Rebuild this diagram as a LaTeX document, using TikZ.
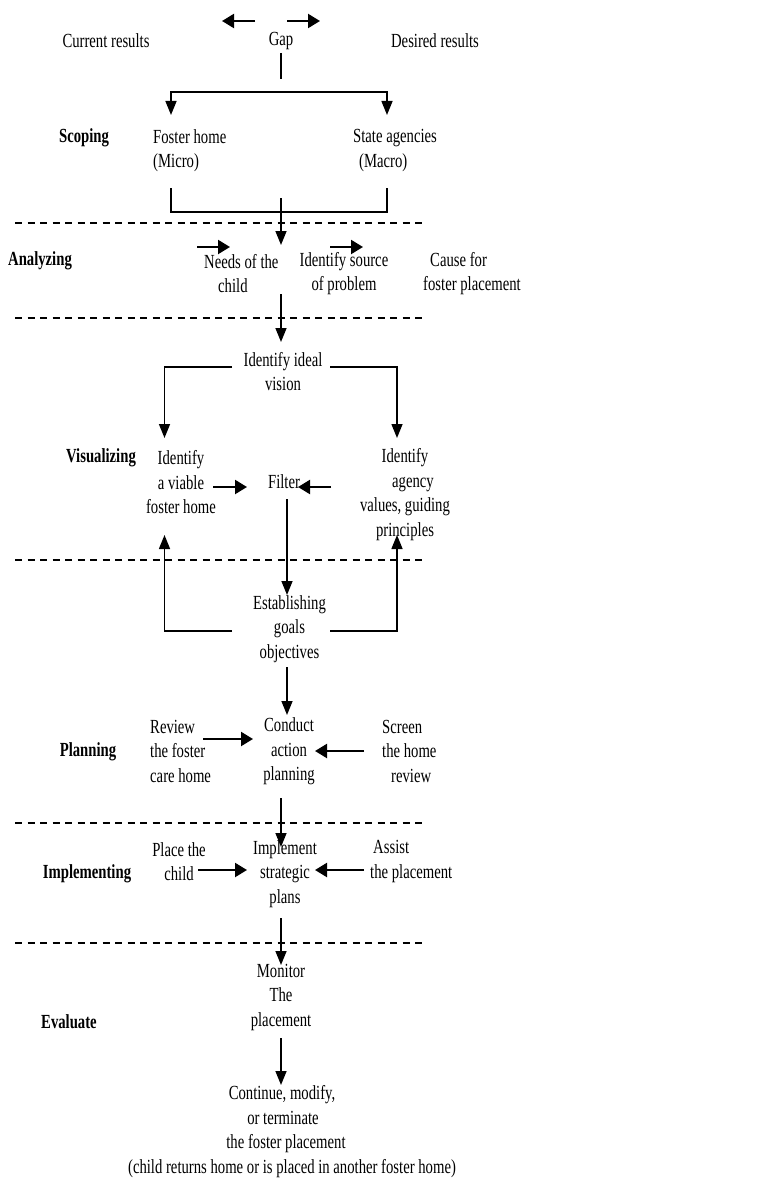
\documentclass[tikz,border=0pt]{standalone}
\usepackage{fontspec}
\setmainfont{Liberation Serif}[FakeStretch=0.735]
\usetikzlibrary{arrows.meta}
\begin{document}
\begin{tikzpicture}[x=1pt,y=-1pt,
  txt/.style={inner sep=0pt,align=center,font=\fontsize{20}{24.5}\selectfont},
  ltxt/.style={inner sep=0pt,align=left,anchor=west,font=\fontsize{20}{24.5}\selectfont},
  lab/.style={inner sep=0pt,font=\fontsize{20}{24.5}\selectfont\bfseries},
  vl/.style={line width=1.5pt},
  hl/.style={line width=2pt},
  varr/.style={line width=1.5pt,-{Triangle[length=14pt,width=11pt]}},
  harr/.style={line width=2.2pt,-{Triangle[length=12pt,width=14pt]}},
  sep/.style={line width=1.3pt,dash pattern=on 7pt off 5.5pt}]
\useasboundingbox (0,0) rectangle (756,1180);

% top row
\node[txt] (cur) at (106,41) {Current results};
\node[txt] (gap) at (281,41) {Gap};
\node[txt] (des) at (435,41) {Desired results};
\coordinate (la1) at (255,21); \coordinate (la2) at (222,21);
\coordinate (ra1) at (287,21); \coordinate (ra2) at (320,21);
\draw[harr] (la1) -- (la2);
\draw[harr] (ra1) -- (ra2);
\coordinate (g1) at (281,79);
\draw[vl] ([yshift=-3pt]gap.south) -- (g1);
\coordinate (b1) at (171,92); \coordinate (b2) at (387,92);
\draw[hl] ([xshift=-0.75pt]b1) -- ([xshift=0.75pt]b2);
\draw[varr] (b1) -- (171,115);
\draw[varr] (b2) -- (387,115);

% scoping
\node[lab] (scop) at (84,138) {Scoping};
\node[ltxt] (fh) at (153,150.5) {Foster home\\(Micro)};
\node[ltxt] (sa) at (353,150.5) {State agencies\\\hspace*{6pt}(Macro)};
\draw[vl] (171,188) -- (171,212) -- (387,212) -- (387,188);
\draw[varr] (281,198) -- (281,245);
\draw[sep] (15,223) -- (427,223);

% analyzing
\node[lab] (ana) at (40,261) {Analyzing};
\node[ltxt] (needs) at (204,273.5) {Needs of the\\\hspace*{14pt}child};
\node[txt] (src) at (344,273.5) {Identify source\\of problem};
\node[ltxt] (cause) at (423,273.5) {\hspace*{7pt}Cause for\\foster placement};
\draw[harr] (197,247) -- (230,247);
\draw[harr] (330,247) -- (363,247);
\draw[varr] (281,294) -- (281,342);
\draw[sep] (15,318) -- (427,318);

% visualizing
\node[txt] (ideal) at (283,371.5) {Identify ideal\\vision};
\draw[varr] (232,367) -- (164.5,367) -- (164.5,438);
\draw[varr] (330,367) -- (397,367) -- (397,438);
\node[lab] (vis) at (101,458) {Visualizing};
\node[txt] (viable) at (181,482.5) {Identify\\a viable\\foster home};
\node[txt] (filter) at (284,482) {Filter};
\node[txt] (agency) at (405,494.5) {Identify\\\mbox{\hspace*{16pt}agency}\\values, guiding\\principles};
\draw[harr] (213,487) -- (247,487);
\draw[harr] (331,487) -- (298,487);
\draw[varr] (287,499) -- (287,595);
\draw[sep] (15,560) -- (427,560);
\draw[varr] (232,631) -- (164.5,631) -- (164.5,535);
\draw[varr] (330,631) -- (397,631) -- (397,535);
\node[txt] (estab) at (289.5,629) {Establishing\\goals\\objectives};
\draw[varr] (287,667) -- (287,715);

% planning
\node[lab] (plan) at (88,752) {Planning};
\node[ltxt] (review) at (150,751.3) {Review\\the foster\\care home};
\node[txt] (conduct) at (289,751.3) {Conduct\\action\\planning};
\node[ltxt] (screen) at (382,751.3) {Screen\\the home\\\hspace*{9pt}review};
\draw[harr] (203,739) -- (253,739);
\draw[harr] (364,751) -- (315,751);
\draw[varr] (281,798) -- (281,847);
\draw[sep] (15,823) -- (427,823);

% implementing
\node[lab] (impl) at (87,874) {Implementing};
\node[txt] (place) at (179,861.5) {Place the\\child};
\node[txt] (implement) at (285,873.7) {Implement\\strategic\\plans};
\node[ltxt] (assist) at (370,861.5) {\hspace*{3pt}Assist\\the placement};
\draw[harr] (198,870) -- (247,870);
\draw[harr] (364,870) -- (315,870);
\draw[varr] (281,918) -- (281,965);
\draw[sep] (15,943) -- (427,943);

% evaluate
\node[txt] (monitor) at (281,997) {Monitor\\The\\placement};
\node[lab] (eval) at (69,1022) {Evaluate};
\draw[varr] (281,1038) -- (281,1085);
\node[txt] (final) at (292,1131.5) {\mbox{Continue, modify,\hspace*{20pt}}\\\mbox{or terminate\hspace*{18pt}}\\\mbox{the foster placement\hspace*{12pt}}\\(child returns home or is placed in another foster home)};
\end{tikzpicture}
\end{document}
